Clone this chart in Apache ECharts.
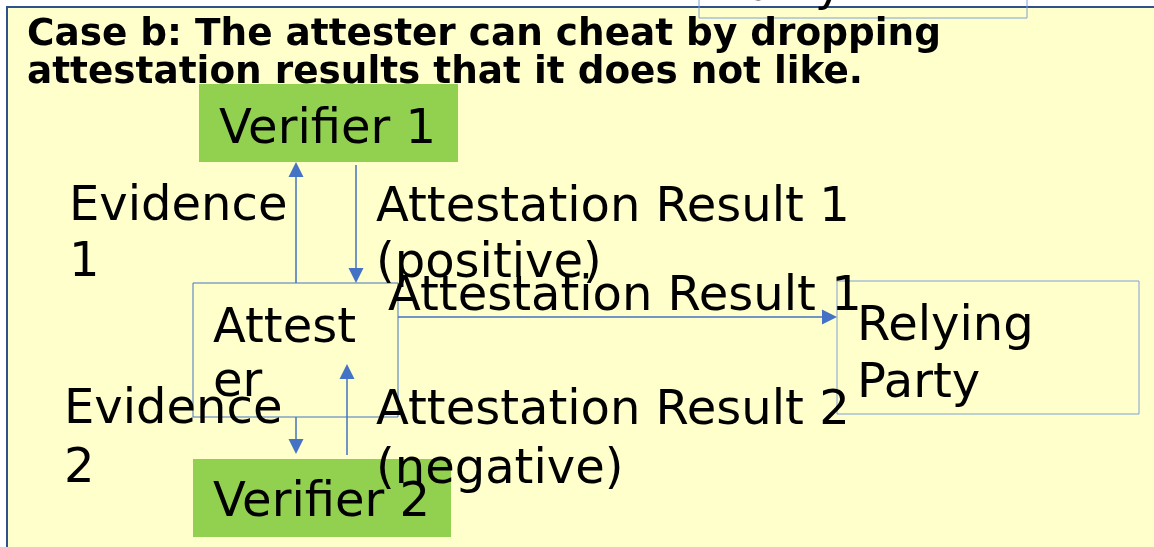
<!DOCTYPE html>
<html>
<head>
<meta charset="utf-8">
<script src="https://cdn.jsdelivr.net/npm/echarts@6/dist/echarts.min.js"></script>
<style>
html,body{margin:0;padding:0;background:#ffffff;}
#main{width:1154px;height:547px;}
</style>
</head>
<body>
<div id="main"></div>
<script>
// Diagram space: x 0..1154, y 0..547 (downwards)
const panel = [[7, 7, 1170, 560]];
const boxNames = ['Verifier 1', 'Verifier 2', 'Attester', 'Relying Party', 'Relying Party (prev)'];
const boxKinds = ['verifier', 'verifier', 'entity', 'entity2', 'entity2'];
const boxX0 = [199, 193, 193, 837, 699];
const boxY0 = [84, 459, 283, 281, -20];
const boxX1 = [458, 451, 398, 1139, 1027];
const boxY1 = [162, 537, 417, 414, 18];

const arrowNames = ['Evidence 1', 'Attestation Result 1', 'Attestation Result 1 (to RP)', 'Evidence 2', 'Attestation Result 2'];
const arrowFrom = [[296, 283], [356, 165], [398, 317], [296, 417], [347, 455]];
const arrowTo = [[296, 162], [356, 283], [837, 317], [296, 454], [347, 364]];

const labelTexts = ['Case b: The attester can cheat by dropping', 'attestation results that it does not like.',
  'Verifier 1', 'Evidence', '1', 'Attestation Result 1', '(positive)', 'Attestation Result 1',
  'Attest', 'er', 'Relying', 'Party', 'Evidence', '2', 'Attestation Result 2', '(negative)', 'Verifier 2', 'Party'];
const labelX = [27, 27, 219, 69, 69, 376, 376, 388, 213, 213, 857, 857, 64, 64, 376, 376, 213, 720];
const labelY = [35, 73, 131, 208, 264, 209, 265, 298, 330, 384, 328, 385, 411, 470, 412, 471, 504, -12];
const labelBold = [true, true, false, false, false, false, false, false, false, false, false, false, false, false, false, false, false, false];

const kindStyle = {
  verifier: {fill: '#92D050', stroke: null, lineWidth: 0},
  entity: {fill: 'transparent', stroke: '#4472C4', lineWidth: 1},
  entity2: {fill: 'transparent', stroke: '#7F9FD8', lineWidth: 1}
};

const chart = echarts.init(document.getElementById('main'), null, {renderer: 'canvas'});

const boxData = boxNames.map((n, i) => [boxX0[i], boxY0[i], boxX1[i], boxY1[i], i]);
const arrowData = arrowNames.map((n, i) => [arrowFrom[i][0], arrowFrom[i][1], arrowTo[i][0], arrowTo[i][1], i]);
const labelData = labelTexts.map((t, i) => [labelX[i], labelY[i], i]);

function rectFromCoords(api, x0, y0, x1, y1) {
  const p0 = api.coord([x0, y0]);
  const p1 = api.coord([x1, y1]);
  return {x: Math.min(p0[0], p1[0]), y: Math.min(p0[1], p1[1]), width: Math.abs(p1[0] - p0[0]), height: Math.abs(p1[1] - p0[1])};
}

chart.setOption({
  animation: false,
  backgroundColor: '#ffffff',
  grid: {left: 0, right: 0, top: 0, bottom: 0, containLabel: false},
  xAxis: {type: 'value', min: 0, max: 1154, show: false},
  yAxis: {type: 'value', min: 0, max: 547, inverse: true, show: false},
  series: [
    {
      type: 'custom', name: 'panel', clip: false, z: 1,
      data: panel,
      renderItem: function (params, api) {
        const r = rectFromCoords(api, api.value(0), api.value(1), api.value(2), api.value(3));
        return {type: 'rect', shape: r, style: {fill: '#FFFFCC', stroke: '#2F528F', lineWidth: 2}};
      }
    },
    {
      type: 'custom', name: 'boxes', clip: false, z: 2,
      data: boxData,
      renderItem: function (params, api) {
        const i = api.value(4);
        const st = kindStyle[boxKinds[i]];
        const r = rectFromCoords(api, api.value(0), api.value(1), api.value(2), api.value(3));
        return {type: 'rect', shape: r, style: {fill: st.fill === 'transparent' ? null : st.fill, stroke: st.stroke, lineWidth: st.lineWidth}};
      }
    },
    {
      type: 'custom', name: 'arrows', clip: false, z: 3,
      data: arrowData,
      renderItem: function (params, api) {
        const a = api.coord([api.value(0), api.value(1)]);
        const b = api.coord([api.value(2), api.value(3)]);
        const dx = b[0] - a[0], dy = b[1] - a[1];
        const len = Math.sqrt(dx * dx + dy * dy);
        const ux = dx / len, uy = dy / len;
        const headL = 15, headW = 7.5;
        const bx = b[0] - ux * headL, by = b[1] - uy * headL;
        const px = -uy, py = ux;
        return {
          type: 'group',
          children: [
            {type: 'line', shape: {x1: a[0], y1: a[1], x2: bx, y2: by}, style: {stroke: '#4472C4', lineWidth: 1.5}},
            {type: 'polygon', shape: {points: [[b[0], b[1]], [bx + px * headW, by + py * headW], [bx - px * headW, by - py * headW]]}, style: {fill: '#4472C4'}}
          ]
        };
      }
    },
    {
      type: 'custom', name: 'labels', clip: false, z: 4,
      data: labelData,
      renderItem: function (params, api) {
        const i = api.value(2);
        const p = api.coord([api.value(0), api.value(1)]);
        const bold = labelBold[i];
        return {
          type: 'text',
          x: p[0], y: p[1],
          style: {
            text: labelTexts[i],
            fill: '#000000',
            font: (bold ? 'bold 37.4px' : 'normal 48px') + ' "DejaVu Sans"',
            align: 'left',
            verticalAlign: 'middle'
          }
        };
      }
    }
  ]
});
</script>
</body>
</html>
